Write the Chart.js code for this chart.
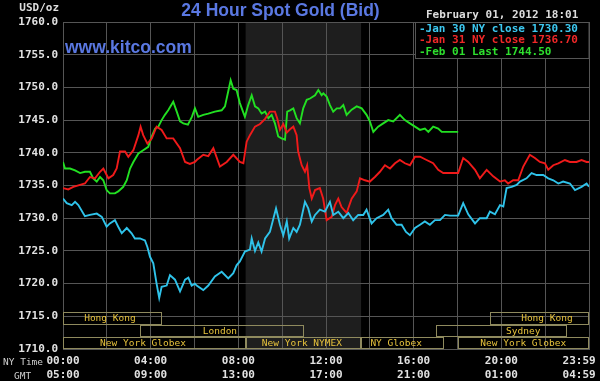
<!DOCTYPE html>
<html>
<head>
<meta charset="utf-8">
<script src="https://cdn.jsdelivr.net/npm/chart.js@4/dist/chart.umd.min.js"></script>
<style>
  html, body { margin: 0; padding: 0; background: #000; }
  #wrap { width: 600px; height: 381px; position: relative; }
</style>
</head>
<body>
<div id="wrap"><canvas id="c" width="600" height="381"></canvas></div>
<script>
// ---------- data (hours since 00:00 NY time, USD/oz) ----------
const jan30Hours = [0,0.17,0.40,0.55,0.70,1.00,1.23,1.54,1.77,1.99,2.14,2.37,2.52,2.68,2.91,3.13,3.28,3.51,3.74,3.85,3.97,4.12,4.27,4.39,4.50,4.73,4.88,5.11,5.34,5.57,5.72,5.87,6.02,6.10,6.40,6.63,6.93,7.24,7.54,7.77,7.92,8.07,8.30,8.53,8.61,8.76,8.91,9.06,9.22,9.44,9.72,9.90,10.05,10.21,10.32,10.51,10.66,10.81,11.04,11.19,11.35,11.50,11.72,11.95,12.18,12.33,12.56,12.79,13.02,13.24,13.47,13.70,13.85,14.08,14.31,14.61,14.84,14.99,15.22,15.45,15.65,15.83,16.06,16.29,16.51,16.74,16.97,17.20,17.43,17.66,18.03,18.26,18.49,18.80,19.02,19.33,19.48,19.71,19.94,20.09,20.24,20.47,20.70,20.85,21.15,21.38,21.61,21.91,22.14,22.37,22.60,22.82,23.13,23.36,23.66,23.89,24.0];
const jan30Values = [1733.0,1732.3,1732.0,1732.5,1732.0,1730.3,1730.5,1730.7,1730.2,1728.7,1729.2,1729.7,1728.7,1727.7,1728.5,1727.7,1726.9,1726.9,1726.6,1725.6,1724.1,1723.1,1720.0,1717.8,1719.5,1719.7,1721.3,1720.6,1718.8,1720.6,1720.9,1719.7,1720.0,1719.7,1719.0,1719.7,1721.1,1721.8,1720.8,1721.6,1722.8,1723.4,1724.9,1725.2,1726.9,1725.0,1726.3,1724.9,1726.9,1727.9,1731.5,1729.0,1727.4,1729.5,1726.9,1728.5,1727.9,1729.0,1732.5,1731.5,1729.5,1730.5,1731.3,1731.0,1732.5,1730.5,1731.0,1730.0,1730.8,1729.7,1730.5,1730.5,1731.3,1729.2,1730.0,1730.5,1731.3,1730.0,1729.0,1729.0,1727.9,1727.4,1728.5,1729.0,1729.5,1729.0,1729.7,1729.7,1730.5,1730.4,1730.4,1732.3,1730.6,1729.2,1730.0,1730.0,1731.0,1730.6,1732.0,1731.8,1734.6,1734.8,1735.1,1735.6,1736.1,1736.9,1736.6,1736.6,1736.1,1735.8,1735.3,1735.6,1735.3,1734.3,1734.8,1735.3,1734.8];

const jan31Hours = [0,0.24,0.47,0.78,1.00,1.23,1.46,1.69,1.84,2.07,2.29,2.45,2.60,2.83,2.98,3.21,3.44,3.54,3.66,3.85,4.05,4.27,4.50,4.73,5.03,5.34,5.57,5.79,6.02,6.10,6.40,6.63,6.86,7.16,7.47,7.77,8.07,8.23,8.38,8.53,8.76,8.99,9.22,9.44,9.67,9.78,9.90,10.05,10.21,10.36,10.51,10.66,10.73,10.89,11.04,11.14,11.24,11.35,11.50,11.72,11.87,12.03,12.26,12.41,12.56,12.71,12.94,13.17,13.40,13.55,13.78,14.00,14.23,14.46,14.69,14.92,15.15,15.37,15.60,15.83,16.06,16.29,16.59,16.89,17.12,17.35,18.03,18.26,18.49,18.80,19.02,19.33,19.63,19.94,20.16,20.31,20.54,20.77,21.00,21.30,21.53,21.76,21.99,22.14,22.37,22.60,22.90,23.13,23.43,23.66,23.89,24.0];
const jan31Values = [1734.6,1734.4,1734.8,1735.1,1735.3,1736.3,1736.1,1737.1,1737.6,1736.1,1736.6,1737.6,1740.2,1740.2,1739.4,1740.4,1742.7,1744.0,1742.7,1741.4,1742.2,1744.0,1743.5,1742.2,1742.2,1740.7,1738.6,1738.3,1738.6,1738.9,1739.7,1739.5,1740.7,1737.9,1738.6,1739.7,1738.6,1738.4,1741.7,1742.7,1744.0,1744.4,1745.2,1746.3,1746.3,1745.2,1743.5,1744.4,1743.1,1743.6,1744.0,1742.7,1740.2,1738.1,1737.1,1738.1,1734.6,1733.0,1734.3,1734.6,1733.0,1729.7,1730.2,1732.0,1733.0,1731.7,1730.8,1733.0,1734.1,1736.1,1735.8,1735.6,1736.3,1737.1,1738.1,1737.6,1738.4,1738.9,1738.4,1738.1,1739.4,1739.4,1738.9,1738.4,1737.4,1736.9,1736.9,1739.2,1738.6,1737.4,1736.1,1737.4,1736.4,1735.6,1735.8,1735.3,1735.8,1735.8,1737.9,1739.7,1739.2,1738.6,1738.4,1737.4,1738.1,1738.4,1738.9,1738.6,1738.6,1738.9,1738.6,1738.6];

const feb01Hours = [0,0.09,0.32,0.55,0.78,1.00,1.23,1.38,1.54,1.69,1.84,1.99,2.14,2.37,2.52,2.75,2.91,3.06,3.21,3.44,3.66,3.89,4.05,4.20,4.35,4.50,4.65,4.80,5.03,5.19,5.34,5.49,5.70,5.88,6.02,6.17,6.40,6.63,6.93,7.24,7.39,7.54,7.65,7.77,7.92,8.07,8.30,8.45,8.61,8.76,8.91,9.06,9.22,9.37,9.52,9.67,9.82,9.97,10.13,10.23,10.36,10.51,10.66,10.81,10.96,11.12,11.27,11.50,11.65,11.80,11.88,12.03,12.18,12.33,12.49,12.64,12.79,12.94,13.17,13.40,13.63,13.85,14.00,14.16,14.38,14.61,14.84,15.07,15.37,15.60,15.83,16.06,16.29,16.51,16.67,16.89,17.12,17.28,18.03];
const feb01Values = [1738.6,1737.6,1737.6,1737.3,1736.9,1737.1,1737.1,1736.1,1735.6,1736.3,1735.8,1734.3,1733.8,1733.8,1734.1,1734.8,1735.8,1737.6,1738.6,1739.9,1740.4,1740.9,1742.5,1743.7,1744.0,1745.0,1745.8,1746.5,1747.8,1746.3,1744.8,1744.5,1744.3,1745.5,1746.8,1745.5,1745.8,1746.0,1746.3,1746.5,1747.1,1749.4,1751.1,1749.8,1749.6,1747.6,1745.5,1747.3,1748.8,1747.1,1746.8,1746.0,1746.3,1745.3,1745.8,1744.5,1742.5,1742.2,1742.0,1746.3,1746.5,1746.8,1745.3,1744.5,1746.8,1748.1,1748.3,1748.8,1749.6,1748.8,1749.1,1748.6,1747.3,1746.3,1746.8,1746.8,1747.3,1745.8,1746.6,1747.1,1746.8,1745.8,1744.8,1743.2,1744.0,1744.5,1745.0,1744.8,1745.8,1745.0,1744.5,1744.0,1743.5,1743.7,1743.2,1744.0,1743.7,1743.2,1743.2];

const seriesLabels = ['-Jan 30 NY close 1730.30', '-Jan 31 NY close 1736.70', '-Feb 01 Last 1744.50'];
const nyTimeLabels = ['00:00', '04:00', '08:00', '12:00', '16:00', '20:00', '23:59'];
const gmtTimeLabels = ['05:00', '09:00', '13:00', '17:00', '21:00', '01:00', '04:59'];
const yTickValues = [1710, 1715, 1720, 1725, 1730, 1735, 1740, 1745, 1750, 1755, 1760];

// trading sessions (hours, NY time)
const sessionNames  = ['Hong Kong', 'London', 'New York Globex', 'New York NYMEX', 'NY Globex', 'Sydney', 'Hong Kong', 'New York Globex'];
const sessionStart  = [0, 3.5, 0, 8.333, 13.6, 17, 19.5, 18];
const sessionEnd    = [4.5, 11, 8.333, 13.6, 17.38, 23, 24, 24];
const sessionRow    = [0, 1, 2, 2, 2, 1, 0, 2];
const sessionLabelAt = [2.14, 7.16, 3.65, 10.9, 15.2, 21.0, 22.08, 21.0];
const comexHours = [8.333, 13.6];

// ---------- styling ----------
const MONO = '"DejaVu Sans Mono", monospace';
const SANS = '"Liberation Sans", Arial, sans-serif';
const GRID = '#555555';
const COLORS = ['#2fc3ea', '#f01a1a', '#22e022'];
const TEXT_COLORS = ['#3cc8f0', '#f02828', '#2ee02e'];

function pts(h, v) { return h.map((x, i) => ({ x: x, y: v[i] })); }

const decor = {
  id: 'decor',
  beforeDraw(chart) {
    const ctx = chart.ctx, a = chart.chartArea, x = chart.scales.x;
    ctx.save();
    ctx.fillStyle = '#000';
    ctx.fillRect(0, 0, chart.width, chart.height);
    ctx.fillStyle = '#1e1e1e';
    const x0 = x.getPixelForValue(comexHours[0]), x1 = x.getPixelForValue(comexHours[1]);
    ctx.fillRect(x0, a.top, x1 - x0, a.bottom - a.top);
    ctx.restore();
  },
  afterDatasetsDraw(chart) {
    const ctx = chart.ctx, a = chart.chartArea, x = chart.scales.x;
    ctx.save();
    // session boxes
    const rowH = 12.2;
    const top0 = a.bottom - 3 * rowH;
    ctx.lineWidth = 1;
    ctx.strokeStyle = '#8f8a5e';
    ctx.font = '9.5px ' + MONO;
    ctx.textAlign = 'center';
    ctx.textBaseline = 'middle';
    sessionNames.forEach((name, i) => {
      const l = Math.round(x.getPixelForValue(sessionStart[i])) + 0.5;
      const r = Math.round(x.getPixelForValue(sessionEnd[i])) - 0.5;
      const t = Math.round(top0 + sessionRow[i] * rowH) + 0.5;
      const b = Math.round(top0 + (sessionRow[i] + 1) * rowH) - 0.5;
      ctx.strokeRect(l, t, r - l, b - t);
      ctx.fillStyle = '#e6c23c';
      ctx.fillText(name, x.getPixelForValue(sessionLabelAt[i]), (t + b) / 2 + 0.5);
    });
    // legend box
    const lx = 415.5, ly = a.top + 0.5, lw = a.right - 415.5, lh = 36;
    ctx.fillStyle = '#000';
    ctx.fillRect(lx, ly, lw, lh);
    ctx.strokeStyle = GRID;
    ctx.strokeRect(lx, ly, lw, lh);
    ctx.font = 'bold 11px ' + MONO;
    ctx.textAlign = 'left';
    ctx.textBaseline = 'alphabetic';
    seriesLabels.forEach((s, i) => {
      ctx.fillStyle = TEXT_COLORS[i];
      ctx.fillText(s, 419, 31.5 + i * 11.8);
    });
    ctx.restore();
  },
  afterDraw(chart) {
    const ctx = chart.ctx;
    ctx.save();
    ctx.textBaseline = 'alphabetic';
    ctx.fillStyle = '#5a78e2';
    ctx.font = 'bold 17.5px ' + SANS;
    ctx.textAlign = 'center';
    ctx.fillText('24 Hour Spot Gold (Bid)', 280.5, 16);
    ctx.textAlign = 'left';
    ctx.fillText('www.kitco.com', 65, 53);
    ctx.fillStyle = '#dedede';
    ctx.font = 'bold 11px ' + MONO;
    ctx.fillText('February 01, 2012 18:01', 426, 17.5);
    ctx.textAlign = 'right';
    ctx.fillText('USD/oz', 59, 11);
    ctx.font = '9.5px ' + MONO;
    ctx.fillStyle = '#cfcfcf';
    ctx.textAlign = 'left';
    ctx.fillText('NY Time', 3, 365);
    ctx.fillText('GMT', 14, 379);
    ctx.restore();
  }
};

new Chart(document.getElementById('c'), {
  type: 'line',
  data: {
    datasets: [
      { label: seriesLabels[0], data: pts(jan30Hours, jan30Values), borderColor: COLORS[0] },
      { label: seriesLabels[1], data: pts(jan31Hours, jan31Values), borderColor: COLORS[1] },
      { label: seriesLabels[2], data: pts(feb01Hours, feb01Values), borderColor: COLORS[2] }
    ]
  },
  options: {
    responsive: false,
    animation: false,
    devicePixelRatio: 1,
    layout: { padding: { left: 0, right: 11, top: 22, bottom: 0 } },
    elements: {
      line: { borderWidth: 1.9, tension: 0, fill: false },
      point: { radius: 0 }
    },
    plugins: { legend: { display: false }, tooltip: { enabled: false }, title: { display: false } },
    scales: {
      x: {
        type: 'linear', min: 0, max: 24,
        grid: { color: GRID, drawTicks: false, lineWidth: 1 },
        border: { color: GRID },
        afterBuildTicks(s) { const t = []; for (let h = 0; h <= 24; h += 2) t.push({ value: h }); s.ticks = t; },
        ticks: {
          autoSkip: false, maxRotation: 0, minRotation: 0, padding: 5,
          color: '#e2e2e2',
          font: { family: MONO, size: 11, weight: 'bold', lineHeight: '14px' },
          callback(v) {
            if (v % 4 !== 0) return '';
            const i = v / 4;
            if (v === 24) return [nyTimeLabels[i] + '   ', gmtTimeLabels[i] + '   '];
            return [nyTimeLabels[i], gmtTimeLabels[i]];
          }
        },
        afterFit(s) { s.height = 32; s.paddingLeft = 0; s.paddingRight = 0; }
      },
      y: {
        min: 1710, max: 1760,
        grid: { color: GRID, drawTicks: false, lineWidth: 1 },
        border: { color: GRID },
        afterBuildTicks(s) { s.ticks = yTickValues.map(v => ({ value: v })); },
        ticks: {
          padding: 5, color: '#e2e2e2',
          font: { family: MONO, size: 11, weight: 'bold' },
          callback(v) { return Number(v).toFixed(1); }
        },
        afterFit(s) { s.width = 63; s.paddingTop = 0; s.paddingBottom = 0; }
      }
    }
  },
  plugins: [decor]
});
</script>
</body>
</html>
